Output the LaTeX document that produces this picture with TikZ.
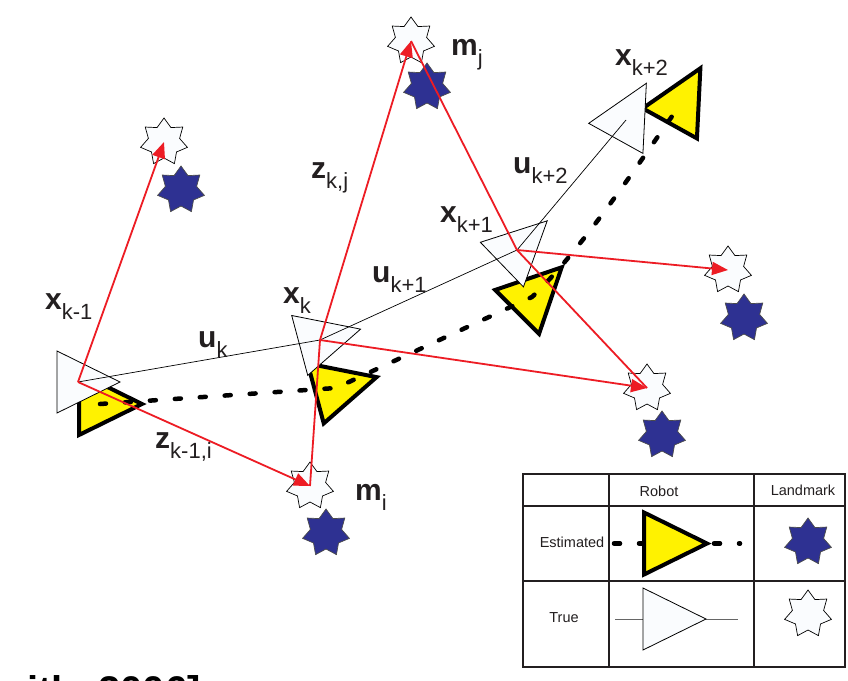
\documentclass[tikz,border=0pt]{standalone}
\usepackage{fontspec}
\setmainfont{Liberation Sans}
\usetikzlibrary{shapes.geometric,arrows.meta}
\definecolor{obsred}{RGB}{237,28,36}
\definecolor{estyellow}{RGB}{255,242,0}
\definecolor{lmknavy}{RGB}{46,49,146}
\definecolor{truefill}{RGB}{250,252,254}
\definecolor{ink}{RGB}{35,31,32}
\newcommand\lbl[2]{{\fontsize{30}{30}\selectfont\bfseries #1}\raisebox{-10pt}{\fontsize{22}{22}\selectfont #2}}
\tikzset{
  truetri/.style={draw=black, line width=0.8pt, fill=truefill, line join=miter},
  esttri/.style={draw=black, line width=4pt, fill=estyellow, line join=miter},
  pics/truerobot/.style={code={\draw[truetri, rotate=#1] (-21,-31)--(42,0)--(-21,31)--cycle;}},
  pics/truerobot/.default=0,
  pics/estrobot/.style={code={\draw[esttri, rotate=#1] (-21,-31)--(42,0)--(-21,31)--cycle;}},
  pics/estrobot/.default=0,
  lmk/.style={star, star points=7, star point ratio=1.5, minimum size=48pt, inner sep=0pt, outer sep=0pt, line width=0.7pt, line join=miter},
  lmktrue/.style={lmk, draw=black, fill=truefill},
  lmkest/.style={lmk, draw=black!70, fill=lmknavy},
  estpath/.style={draw=black, line width=4.5pt, dash pattern=on 6pt off 19pt, line cap=round},
  motion/.style={draw=black, line width=0.7pt},
  obsline/.style={draw=obsred, line width=1.8pt},
  obs/.style={obsline, -{Triangle[length=16pt,width=13pt]}},
  lab/.style={anchor=base west, inner sep=0pt, text=ink},
  legtext/.style={font=\fontsize{14.5}{14.5}\selectfont, text=ink, inner sep=0pt},
}
\begin{document}
\begin{tikzpicture}[x=1pt,y=-1pt]
\useasboundingbox (0,0) rectangle (848,680);
\fill[white] (0,0) rectangle (848,680);
% robot poses
\coordinate (Tkm1) at (78,382);
\coordinate (Tk) at (320,340);
\coordinate (Tkp1) at (517,250);
\coordinate (Tkp2) at (626,120);
\coordinate (Ekm1) at (100,404);
\coordinate (Ek) at (336,388);
\coordinate (Ekp1) at (532,297);
\coordinate (Ekp2) at (680,105);
% estimated robots
\pic at (Ekm1) {estrobot=0};
\pic at (Ek) {estrobot=15};
\pic at (Ekp1) {estrobot=45};
\pic at (Ekp2) {estrobot=61};
% estimated path
\draw[estpath] (Ekm1) -- (Ek) -- (Ekp1) .. controls (582,250) and (645,154) .. (Ekp2);
% true robots
\pic at (Tkm1) {truerobot=0};
\pic at (Tk) {truerobot=15};
\pic at (Tkp1) {truerobot=44};
\pic at (Tkp2) {truerobot=61};
% controls
\draw[motion] (Tkm1) -- (Tk) -- (Tkp1) -- (Tkp2);
% landmarks
\node[lmkest] (L1e) at (181,190) {};
\node[lmktrue] (L1t) at (164,142) {};
\node[lmkest] (Lje) at (427,87) {};
\node[lmktrue] (Ljt) at (411,41) {};
\node[lmkest] (Lie) at (326,533) {};
\node[lmktrue] (Lit) at (310,486) {};
\node[lmkest] (L4e) at (662,435) {};
\node[lmktrue] (L4t) at (647,388) {};
\node[lmkest] (L5e) at (744,318) {};
\node[lmktrue] (L5t) at (728,270) {};
% observations
\draw[obsline] (Tk) -- (Lit.center);
\draw[obsline] (Tkp1) -- (Ljt.center);
\draw[obsline] (Tkp1) -- (L4t.center);
\draw[obs] (Tkm1) -- (L1t.center);
\draw[obs] (Tkm1) -- (Lit.center);
\draw[obs] (Tk) -- (Ljt.center);
\draw[obs] (Tk) -- (L4t.center);
\draw[obs] (Tkp1) -- (L5t.center);
% labels
\node[lab] (lxkm1) at (45,309) {\lbl{x}{k-1}};
\node[lab] (luk) at (198,347) {\lbl{u}{k}};
\node[lab] (lzkm1i) at (155,448) {\lbl{z}{k-1,i}};
\node[lab] (lmi) at (355,500) {\lbl{m}{i}};
\node[lab] (lxk) at (283,303) {\lbl{x}{k}};
\node[lab] (lukp1) at (372,282) {\lbl{u}{k+1}};
\node[lab] (lzkj) at (311,178) {\lbl{z}{k,j}};
\node[lab] (lmj) at (451,55) {\lbl{m}{j}};
\node[lab] (lxkp1) at (440,222) {\lbl{x}{k+1}};
\node[lab] (lukp2) at (513,173) {\lbl{u}{k+2}};
\node[lab] (lxkp2) at (615,65) {\lbl{x}{k+2}};
% legend
\draw[ink, line width=2pt] (523,474) rectangle (845,667);
\draw[ink, line width=1.2pt] (523,506) -- (845,506) (523,581) -- (845,581)
  (609,474) -- (609,667) (754,474) -- (754,667);
\node[legtext] (hrobot) at (659,491) {Robot};
\node[legtext] (hlmk) at (803,490) {Landmark};
\node[legtext] (hest) at (572,542) {Estimated};
\node[legtext] (htrue) at (564,618) {True};
\coordinate (legEa) at (614,543.5);
\coordinate (legEb) at (740,543.5);
\draw[estpath] (legEa) -- (legEb);
\coordinate (legE) at (665,543.5);
\pic at (legE) {estrobot=0};
\coordinate (legTa) at (615,619);
\coordinate (legTb) at (738,619);
\draw[black!60, line width=1pt] (legTa) -- (legTb);
\coordinate (legT) at (664,619);
\pic at (legT) {truerobot=0};
\node[lmkest] (legLe) at (808,542) {};
\node[lmktrue] (legLt) at (808,614) {};
% cut-off citation
\begin{scope}
\clip (0,0) rectangle (848,680);
\node[anchor=base east, inner sep=0pt, font=\fontsize{40}{40}\selectfont\bfseries] (cite) at (201,704) {[Smith, 2006]};
\end{scope}
\end{tikzpicture}
\end{document}
